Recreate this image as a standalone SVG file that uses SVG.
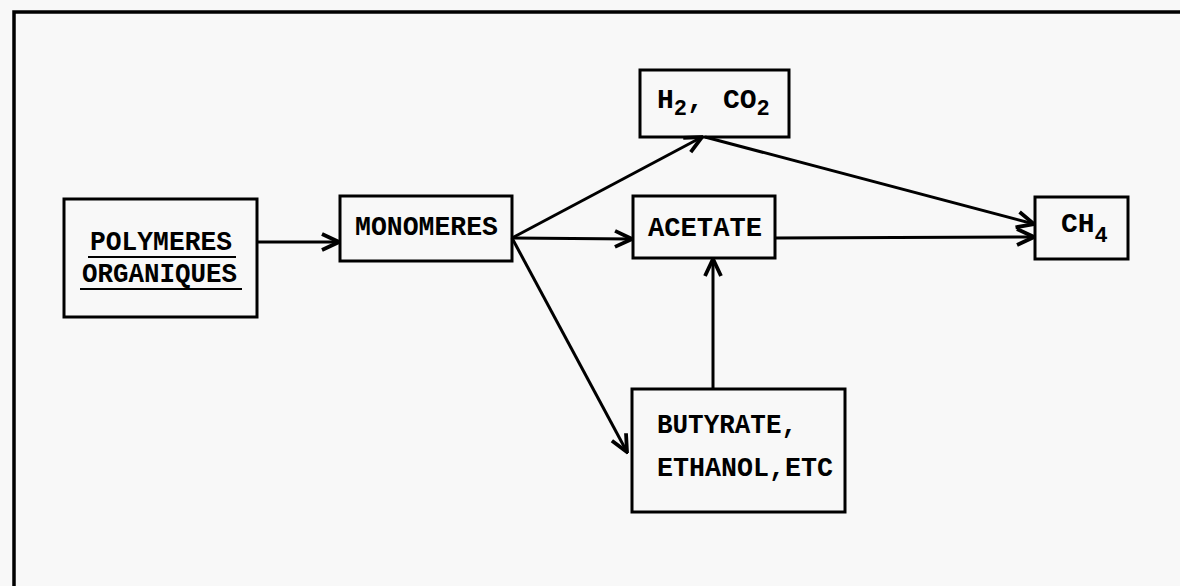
<svg xmlns="http://www.w3.org/2000/svg" width="1180" height="586" viewBox="0 0 1180 586">
<style>
.bg{fill:#f8f8f8}
.box{fill:none;stroke:#000;stroke-width:3}
.frame{fill:none;stroke:#000;stroke-width:3.5}
.t{font-family:"Liberation Mono","Courier New",monospace;font-weight:bold;font-size:28px;fill:#000}
.sub{font-size:22px}
.c{fill:none;stroke:#000;stroke-width:3}
.ul{stroke:#000;stroke-width:2}
</style>
<defs>
<marker id="arr" viewBox="0 0 22 22" refX="20" refY="11" markerWidth="22" markerHeight="22" markerUnits="userSpaceOnUse" orient="auto">
<path d="M3,3 L20,11 L3,19" fill="none" stroke="#000" stroke-width="3.8" stroke-linejoin="miter"/>
</marker>
</defs>
<rect class="bg" x="0" y="0" width="1180" height="586"/>
<path class="frame" d="M14,586 V12 H1180"/>
<g id="connectors">
<line class="c" x1="257" y1="242" x2="339" y2="242" marker-end="url(#arr)"/>
<line class="c" x1="512" y1="238" x2="632" y2="239" marker-end="url(#arr)"/>
<line class="c" x1="512" y1="238" x2="702" y2="137" marker-end="url(#arr)"/>
<line class="c" x1="512" y1="238" x2="627" y2="452" marker-end="url(#arr)"/>
<line class="c" x1="705" y1="137" x2="1034" y2="224" marker-end="url(#arr)"/>
<line class="c" x1="775" y1="238" x2="1034" y2="237" marker-end="url(#arr)"/>
<line class="c" x1="713" y1="389" x2="713" y2="259" marker-end="url(#arr)"/>
</g>
<g id="polymeres">
<rect class="box" x="64" y="199" width="193" height="118"/>
<text class="t" x="90" y="250" textLength="142" lengthAdjust="spacingAndGlyphs">POLYMERES</text>
<line class="ul" x1="88" y1="257" x2="236" y2="257"/>
<text class="t" x="82" y="282" textLength="155" lengthAdjust="spacingAndGlyphs">ORGANIQUES</text>
<line class="ul" x1="80" y1="289" x2="242" y2="289"/>
</g>
<g id="monomeres">
<rect class="box" x="340" y="196" width="172" height="65"/>
<text class="t" x="355" y="235" textLength="143" lengthAdjust="spacingAndGlyphs">MONOMERES</text>
</g>
<g id="h2co2">
<rect class="box" x="640" y="70" width="149" height="67"/>
<text class="t" x="657" y="108">H<tspan class="sub" dy="7">2</tspan><tspan dy="-7">,</tspan><tspan x="723">CO</tspan><tspan class="sub" dy="7">2</tspan></text>
</g>
<g id="acetate">
<rect class="box" x="633" y="196" width="142" height="62"/>
<text class="t" x="648" y="236" textLength="114" lengthAdjust="spacingAndGlyphs">ACETATE</text>
</g>
<g id="ch4">
<rect class="box" x="1035" y="197" width="93" height="62"/>
<text class="t" x="1061" y="232">CH<tspan class="sub" dy="10">4</tspan></text>
</g>
<g id="butyrate">
<rect class="box" x="632" y="389" width="213" height="123"/>
<text class="t" x="657" y="433" textLength="140" lengthAdjust="spacingAndGlyphs">BUTYRATE,</text>
<text class="t" x="657" y="476" textLength="176" lengthAdjust="spacingAndGlyphs">ETHANOL,ETC</text>
</g>
</svg>
